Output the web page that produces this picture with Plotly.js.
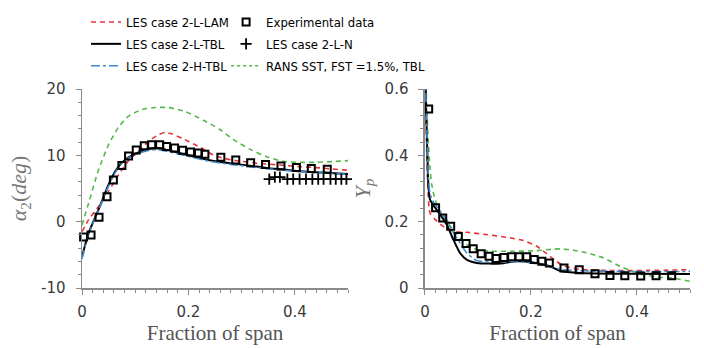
<!DOCTYPE html>
<html>
<head>
<meta charset="utf-8">
<script src="https://cdn.plot.ly/plotly-3.0.1.min.js"></script>
<style>html,body{margin:0;padding:0;background:#fff}#chart{width:704px;height:348px}</style>
</head>
<body>
<div id="chart"></div>
<script>
// ---------- Left panel: outlet flow angle alpha2 (deg) ----------
const expXA = [0.003, 0.017, 0.032, 0.047, 0.059, 0.075, 0.0875, 0.102, 0.117, 0.131, 0.146, 0.159, 0.174, 0.189, 0.204, 0.219, 0.231, 0.261, 0.289, 0.317, 0.345, 0.374, 0.403, 0.431, 0.461];
const expYA = [-2.3, -2.0, 0.65, 3.75, 6.3, 8.45, 9.9, 10.8, 11.45, 11.6, 11.6, 11.35, 11.1, 10.75, 10.5, 10.35, 10.15, 9.7, 9.3, 8.9, 8.6, 8.4, 8.15, 8.0, 7.9];

const tblXA = [0, 0.0125, 0.031, 0.05, 0.0625, 0.075, 0.0875, 0.106, 0.125, 0.144, 0.1625, 0.1875, 0.2125, 0.2375, 0.26, 0.284, 0.315, 0.347, 0.38, 0.41, 0.45, 0.5];
const tblYA = [-5.3, -1.7, 1.8, 5.6, 7.6, 8.9, 9.7, 10.45, 10.95, 11.05, 10.75, 10.25, 9.75, 9.3, 9.0, 8.75, 8.45, 8.1, 7.85, 7.6, 7.4, 7.2];
const htblYA = [-5.6, -1.9, 1.7, 5.4, 7.4, 8.8, 9.6, 10.3, 10.75, 10.85, 10.55, 10.1, 9.6, 9.15, 8.85, 8.6, 8.3, 8.0, 7.75, 7.55, 7.35, 7.15];

const lamXA = [0, 0.0125, 0.031, 0.05, 0.069, 0.0875, 0.106, 0.125, 0.144, 0.156, 0.17, 0.19, 0.209, 0.228, 0.244, 0.2625, 0.281, 0.3, 0.325, 0.347, 0.378, 0.409, 0.44, 0.47, 0.5];
const lamYA = [-1.5, 0.3, 2.3, 4.6, 7.1, 9.2, 10.6, 12.1, 13.1, 13.45, 13.2, 12.5, 11.75, 10.95, 10.15, 9.65, 9.3, 9.1, 8.85, 8.7, 8.5, 8.3, 8.15, 7.95, 7.75];

const ransXA = [0, 0.0125, 0.031, 0.05, 0.069, 0.0875, 0.1125, 0.1375, 0.1625, 0.194, 0.228, 0.259, 0.284, 0.316, 0.347, 0.378, 0.409, 0.44, 0.47, 0.5];
const ransYA = [-0.5, 2.8, 7.8, 11.6, 14.3, 15.9, 16.9, 17.2, 17.2, 16.6, 15.3, 13.9, 12.4, 10.9, 9.8, 9.1, 8.95, 8.95, 9.05, 9.2];

const lnXA = [0.352, 0.3625, 0.372, 0.386, 0.397, 0.409, 0.421, 0.433, 0.444, 0.454, 0.467, 0.477, 0.4875, 0.497];
const lnYA = [6.4, 6.7, 6.7, 6.4, 6.4, 6.4, 6.4, 6.4, 6.4, 6.4, 6.4, 6.4, 6.4, 6.4];

// ---------- Right panel: loss coefficient Yp ----------
const expXB = [0.007, 0.020, 0.0335, 0.0485, 0.063, 0.0775, 0.091, 0.106, 0.121, 0.134, 0.149, 0.1635, 0.1775, 0.192, 0.206, 0.2205, 0.2346, 0.2623, 0.291, 0.3208, 0.349, 0.377, 0.407, 0.436, 0.4654, 0.502];
const expYB = [0.54, 0.242, 0.211, 0.186, 0.155, 0.134, 0.118, 0.103, 0.096, 0.089, 0.092, 0.094, 0.094, 0.094, 0.086, 0.081, 0.0755, 0.0605, 0.0554, 0.0433, 0.038, 0.037, 0.036, 0.037, 0.037, 0.038];

const tblXB = [0, 0.002, 0.0044, 0.0063, 0.0094, 0.0157, 0.0283, 0.041, 0.0535, 0.066, 0.0786, 0.0975, 0.1226, 0.148, 0.173, 0.204, 0.236, 0.2547, 0.2925, 0.374, 0.5];
const tblYB = [0.75, 0.55, 0.413, 0.313, 0.267, 0.25, 0.222, 0.1915, 0.146, 0.106, 0.0856, 0.0756, 0.0735, 0.075, 0.0806, 0.077, 0.0655, 0.052, 0.045, 0.043, 0.042];
const htblYB = [0.75, 0.56, 0.43, 0.34, 0.285, 0.26, 0.232, 0.205, 0.168, 0.136, 0.106, 0.0826, 0.078, 0.078, 0.08, 0.075, 0.065, 0.056, 0.052, 0.05, 0.05];

const lamXB = [0, 0.002, 0.0044, 0.0063, 0.0094, 0.019, 0.0346, 0.0535, 0.0786, 0.1164, 0.154, 0.1855, 0.211, 0.2233, 0.236, 0.2484, 0.261, 0.286, 0.343, 0.42, 0.5];
const lamYB = [0.75, 0.5, 0.35, 0.272, 0.227, 0.207, 0.186, 0.171, 0.168, 0.161, 0.153, 0.143, 0.126, 0.111, 0.0957, 0.08, 0.0675, 0.0575, 0.053, 0.053, 0.055];

const ransXB = [0, 0.003, 0.006, 0.0094, 0.0126, 0.019, 0.028, 0.041, 0.0598, 0.0787, 0.0975, 0.1226, 0.1667, 0.204, 0.242, 0.2547, 0.28, 0.305, 0.3365, 0.368, 0.3994, 0.437, 0.4685, 0.5];
const ransYB = [0.75, 0.56, 0.45, 0.363, 0.313, 0.267, 0.232, 0.2015, 0.161, 0.131, 0.116, 0.111, 0.111, 0.112, 0.117, 0.118, 0.114, 0.106, 0.091, 0.0655, 0.045, 0.033, 0.030, 0.02];

// ---------- Labels ----------
const names = ['LES case 2-L-LAM', 'LES case 2-L-TBL', 'LES case 2-H-TBL', 'Experimental data', 'LES case 2-L-N', 'RANS SST, FST =1.5%, TBL'];
const xTickVals = [0, 0.2, 0.4];
const yTickValsA = [-10, 0, 10, 20];
const yTickTextA = ['-10', '0', '10', '20'];
const yTickValsB = [0, 0.2, 0.4, 0.6];
const xTitle = 'Fraction of span';

const RED = '#e8323a', GREEN = '#55b84a', BLUE = '#3f88cc', BLACK = '#000000';

function line(x, y, color, dash, width, xa, ya, name, legend, show, group) {
  return {x, y, type: 'scatter', mode: 'lines', xaxis: xa, yaxis: ya, name, legendgroup: group,
    legend, showlegend: show, line: {color, dash, width, shape: 'spline', smoothing: 0.6}};
}

const traces = [
  // left panel (legend 1 entries)
  line(lamXA, lamYA, RED, '5px,4px', 1.6, 'x', 'y', names[0], 'legend', true, 'g0'),
  line(tblXA, tblYA, BLACK, 'solid', 2, 'x', 'y', names[1], 'legend', true, 'g1'),
  line(ransXA, ransYA, GREEN, '5px,4px', 1.6, 'x', 'y', names[5], 'legend2', false, 'g5'),
  line(tblXA, htblYA, BLUE, 'dashdot', 1.6, 'x', 'y', names[2], 'legend', true, 'g2'),
  {x: expXA, y: expYA, type: 'scatter', mode: 'markers', xaxis: 'x', yaxis: 'y', name: names[3],
   legend: 'legend2', legendgroup: 'g3', showlegend: true, cliponaxis: false,
   marker: {symbol: 'square-open', size: 7, color: BLACK, line: {width: 2, color: BLACK}}},
  {x: lnXA, y: lnYA, type: 'scatter', mode: 'markers', xaxis: 'x', yaxis: 'y', name: names[4],
   legend: 'legend2', legendgroup: 'g4', showlegend: true, cliponaxis: false,
   marker: {symbol: 'cross-thin-open', size: 8, color: BLACK, line: {width: 1.8, color: BLACK}}},
  // key sample for the RANS line (dotted in the key)
  {x: [null], y: [null], type: 'scatter', mode: 'lines', xaxis: 'x', yaxis: 'y', name: names[5],
   legend: 'legend2', legendgroup: 'g5', showlegend: true, line: {color: GREEN, dash: 'dot', width: 1.6}},
  // right panel
  line(lamXB, lamYB, RED, '5px,4px', 1.6, 'x2', 'y2', names[0], 'legend', false, 'g0'),
  line(ransXB, ransYB, GREEN, '5px,4px', 1.6, 'x2', 'y2', names[5], 'legend2', false, 'g5'),
  line(tblXB, tblYB, BLACK, 'solid', 2, 'x2', 'y2', names[1], 'legend', false, 'g1'),
  line(tblXB, htblYB, BLUE, 'dashdot', 1.6, 'x2', 'y2', names[2], 'legend', false, 'g2'),
  {x: expXB, y: expYB, type: 'scatter', mode: 'markers', xaxis: 'x2', yaxis: 'y2', name: names[3],
   legend: 'legend2', legendgroup: 'g3', showlegend: false, cliponaxis: false,
   marker: {symbol: 'square-open', size: 7, color: BLACK, line: {width: 2, color: BLACK}}}
];

const AXC = '#8a8a8a';
const tickFont = {family: 'DejaVu Sans, Liberation Sans, sans-serif', size: 15, color: '#3a3a3a'};
const titleFont = {family: 'Liberation Serif, DejaVu Serif, serif', size: 21, color: '#555555'};
const yDomain = [0, 199 / 288];

function xAxis(domain, anchor) {
  return {domain, anchor, range: [0, 0.5], tickvals: xTickVals, ticks: 'outside', ticklen: 5,
    tickwidth: 1, tickcolor: AXC, showline: true, linecolor: AXC, linewidth: 1.5,
    showgrid: false, zeroline: false, tickfont: tickFont, ticklabelstandoff: 4,
    minor: {dtick: 0.02, ticks: 'outside', ticklen: 3, tickcolor: AXC, showgrid: false},
    title: {text: xTitle, font: titleFont, standoff: 6}};
}
function yAxis(range, tv, tt, minorD, anchor, title) {
  const a = {domain: yDomain, anchor, range, tickvals: tv, ticks: 'outside', ticklen: 5,
    tickwidth: 1, tickcolor: AXC, showline: true, linecolor: AXC, linewidth: 1.5,
    showgrid: false, zeroline: false, tickfont: tickFont, ticklabelstandoff: 7,
    minor: {dtick: minorD, ticks: 'outside', ticklen: 3, tickcolor: AXC, showgrid: false},
    title: {text: title, font: {family: 'Liberation Serif, DejaVu Serif, serif', size: 22, color: '#777777'}, standoff: 8}};
  if (tt) a.ticktext = tt;
  return a;
}

const legFont = {family: 'Liberation Sans Narrow, DejaVu Sans Condensed, Liberation Sans, sans-serif', size: 13, color: '#000'};
const layout = {
  width: 704, height: 348,
  margin: {l: 82, r: 14, t: 0, b: 60},
  paper_bgcolor: '#fff', plot_bgcolor: '#fff',
  xaxis: xAxis([0, 0.4375], 'y'),
  yaxis: yAxis([-10, 20], yTickValsA, yTickTextA, 2, 'x', '<i>α</i><sub>2</sub>(<i>deg</i>)'),
  xaxis2: xAxis([0.5641, 1], 'y2'),
  yaxis2: yAxis([0, 0.6], yTickValsB, null, 0.04, 'x2', '<i>Y</i><sub><i>p</i></sub>'),
  legend: {x: 0.0066, y: 1 - 7 / 288, xanchor: 'left', yanchor: 'top', bgcolor: 'rgba(0,0,0,0)',
    font: legFont, traceorder: 'grouped', tracegroupgap: 2, itemwidth: 30},
  legend2: {x: 0.237, y: 1 - 7 / 288, xanchor: 'left', yanchor: 'top', bgcolor: 'rgba(0,0,0,0)',
    font: legFont, traceorder: 'grouped', tracegroupgap: 2, itemwidth: 30},
  showlegend: true
};

Plotly.newPlot('chart', traces, layout, {staticPlot: true, displayModeBar: false});
</script>
</body>
</html>
